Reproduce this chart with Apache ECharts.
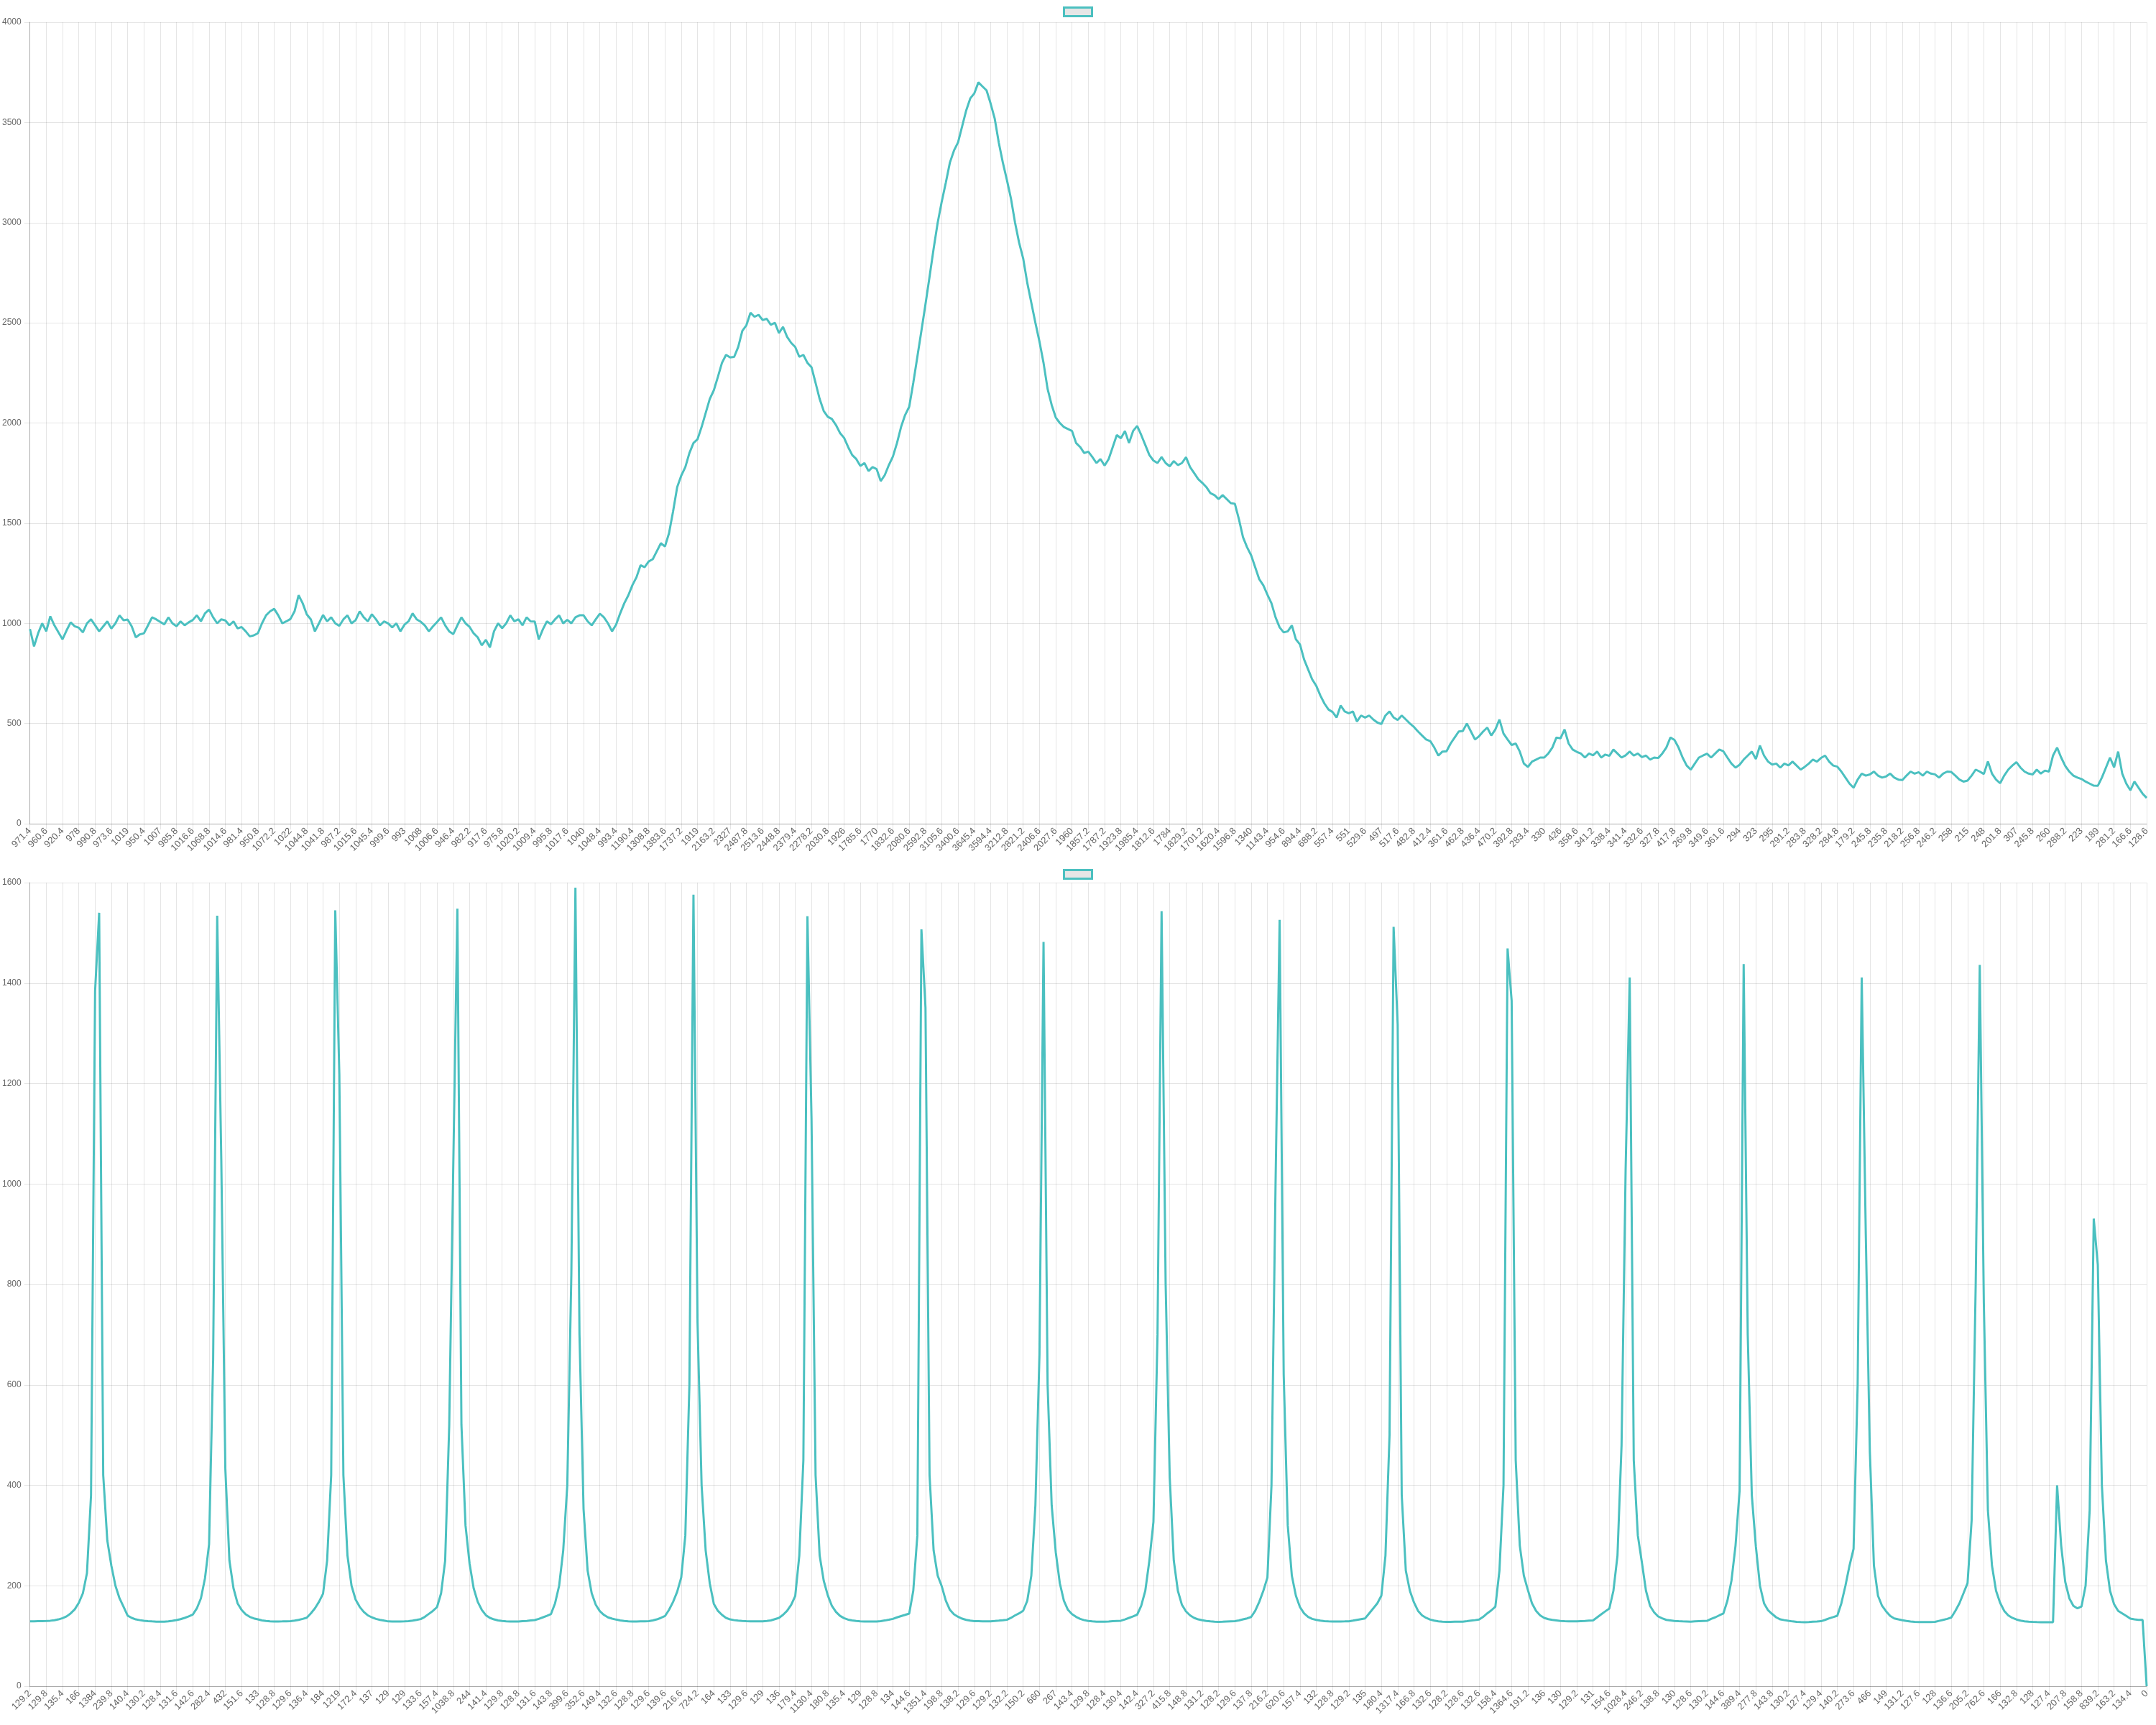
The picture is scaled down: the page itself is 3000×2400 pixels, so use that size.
<!DOCTYPE html>
<html>
<head>
<meta charset="utf-8">
<script src="https://cdn.jsdelivr.net/npm/echarts@6.0.0/dist/echarts.min.js"></script>
<style>
    html, body { margin: 0; padding: 0; background: #fff; }
    #main { width: 3000px; height: 2400px; }
</style>
</head>
<body>
<div id="main"></div>
<script>
    // every 4th value is the one printed under the tick
    const topValues = [
        971.4, 885, 950, 1000,   960.6, 1035, 990, 955,   920.4, 965, 1005, 985,   978, 955, 1000, 1020,
        990.8, 960, 985, 1010,   973.6, 1000, 1040, 1015,   1019, 985, 930, 945,   950.4, 990, 1030, 1020,
        1007, 995, 1030, 1000,   985.8, 1010, 990, 1005,   1016.6, 1040, 1010, 1050,   1068.8, 1030, 1000, 1020,
        1014.6, 990, 1010, 975,   981.4, 960, 935, 940,   950.8, 1000, 1040, 1060,   1072.2, 1040, 1000, 1010,
        1022, 1060, 1140, 1100,   1044.8, 1020, 960, 1000,   1041.8, 1010, 1030, 1000,   987.2, 1020, 1040, 1000,
        1015.6, 1060, 1030, 1010,   1045.4, 1020, 990, 1010,   999.6, 980, 1000, 960,   993, 1010, 1050, 1020,
        1008, 990, 960, 985,   1006.6, 1030, 990, 960,   946.4, 990, 1030, 1000,   982.2, 950, 930, 890,
        917.6, 880, 960, 1000,   975.8, 1000, 1040, 1010,   1020.2, 990, 1030, 1010,   1009.4, 920, 970, 1010,
        995.8, 1020, 1040, 1000,   1017.6, 1000, 1030, 1040,   1040, 1010, 990, 1020,   1048.4, 1030, 1000, 960,
        993.4, 1050, 1100, 1140,   1190.4, 1230, 1290, 1280,   1308.8, 1320, 1360, 1400,   1383.6, 1450, 1560, 1680,
        1737.2, 1780, 1850, 1900,   1919, 1980, 2050, 2120,   2163.2, 2230, 2300, 2340,   2327, 2330, 2380, 2460,
        2487.8, 2550, 2530, 2540,   2513.6, 2520, 2490, 2500,   2448.8, 2480, 2430, 2400,   2379.4, 2330, 2340, 2300,
        2278.2, 2200, 2120, 2060,   2030.8, 2020, 1990, 1950,   1926, 1880, 1840, 1820,   1785.6, 1800, 1760, 1780,
        1770, 1710, 1740, 1790,   1832.6, 1900, 1980, 2040,   2080.6, 2200, 2330, 2460,   2592.8, 2730, 2870, 3000,
        3105.6, 3200, 3300, 3360,   3400.6, 3480, 3560, 3620,   3645.4, 3700, 3680, 3660,   3594.4, 3520, 3400, 3300,
        3212.8, 3120, 3000, 2900,   2821.2, 2700, 2600, 2500,   2406.6, 2300, 2170, 2090,   2027.6, 2000, 1980, 1970,
        1960, 1900, 1880, 1850,   1857.2, 1830, 1800, 1820,   1787.2, 1820, 1880, 1940,   1923.8, 1960, 1900, 1960,
        1985.4, 1940, 1890, 1840,   1812.6, 1800, 1830, 1800,   1784, 1810, 1790, 1800,   1829.2, 1780, 1750, 1720,
        1701.2, 1680, 1650, 1640,   1620.4, 1640, 1620, 1600,   1596.8, 1520, 1430, 1380,   1340, 1280, 1220, 1190,
        1143.4, 1100, 1030, 980,   954.6, 960, 990, 920,   894.4, 820, 770, 720,   688.2, 640, 600, 570,
        557.4, 530, 590, 560,   551, 560, 510, 540,   529.6, 540, 520, 505,   497, 540, 560, 530,
        517.6, 540, 520, 500,   482.8, 460, 440, 420,   412.4, 380, 340, 360,   361.6, 400, 430, 460,
        462.8, 500, 460, 420,   436.4, 460, 480, 440,   470.2, 520, 450, 420,   392.8, 400, 360, 300,
        283.4, 310, 320, 330,   330, 350, 380, 430,   426, 470, 400, 370,   358.6, 350, 330, 350,
        341.2, 360, 330, 345,   338.4, 370, 350, 330,   341.4, 360, 340, 350,   332.6, 340, 320, 330,
        327.8, 350, 380, 430,   417.8, 380, 330, 290,   269.8, 300, 330, 340,   349.6, 330, 350, 370,
        361.6, 330, 300, 280,   294, 320, 340, 360,   323, 390, 340, 310,   295, 300, 280, 300,
        291.2, 310, 290, 270,   283.8, 300, 320, 310,   328.2, 340, 310, 290,   284.8, 260, 230, 200,
        179.2, 220, 250, 240,   245.8, 260, 240, 230,   235.8, 250, 230, 220,   218.2, 240, 260, 250,
        256.8, 240, 260, 250,   246.2, 230, 250, 260,   258, 240, 220, 210,   215, 240, 270, 260,
        248, 310, 250, 220,   201.8, 240, 270, 290,   307, 280, 260, 250,   245.8, 270, 250, 265,
        260, 340, 380, 330,   288.2, 260, 240, 230,   223, 210, 200, 190,   189, 230, 280, 330,
        281.2, 360, 250, 200,   166.6, 210, 180, 150,   128.6
    ];

    const bottomValues = [
        129.2, 129.2, 129.4, 129.6,   129.8, 130.4, 131.4, 133,   135.4, 139, 145, 153,   166, 185, 225, 380,
        1384, 1540, 420, 290,   239.8, 200, 175, 158,   140.4, 136, 133, 131.5,   130.2, 129.5, 129, 128.6,
        128.4, 128.6, 129.2, 130.2,   131.6, 133.5, 136, 139,   142.6, 155, 175, 215,   282.4, 650, 1534, 1050,
        432, 250, 195, 165,   151.6, 143, 138, 135,   133, 131, 130, 129.3,   128.8, 128.8, 129, 129.3,
        129.6, 130.5, 132, 134,   136.4, 145, 155, 168,   184, 250, 420, 1545,   1219, 420, 260, 200,
        172.4, 158, 148, 141,   137, 134, 132, 130.5,   129, 128.8, 128.7, 128.8,   129, 129.6, 130.5, 132,
        133.6, 138, 144, 150,   157.4, 185, 250, 520,   1038.8, 1548, 520, 320,   244, 195, 168, 152,
        141.4, 136, 133, 131,   129.8, 129.2, 128.9, 128.8,   128.8, 129.4, 130, 130.8,   131.6, 134, 137, 140,
        143.8, 165, 200, 270,   399.6, 820, 1590, 700,   352.6, 230, 185, 162,   149.4, 142, 137, 134.5,
        132.6, 131, 130, 129.3,   128.8, 128.9, 129.1, 129.3,   129.6, 131, 133, 136,   139.6, 152, 168, 188,
        216.6, 300, 600, 1576,   724.2, 400, 270, 205,   164, 150, 142, 136,   133, 131.5, 130.5, 130,
        129.6, 129.3, 129.1, 129,   129, 129.8, 131, 133.5,   136, 142, 150, 162,   179.4, 260, 450, 1533,
        1130.4, 420, 260, 210,   180.8, 160, 148, 140,   135.4, 132.5, 131, 129.8,   129, 128.8, 128.7, 128.7,
        128.8, 129.6, 130.8, 132.3,   134, 137, 139.5, 142,   144.6, 190, 300, 1507,   1351.4, 420, 270, 220,
        198.8, 170, 152, 143,   138.2, 134.5, 132, 130.5,   129.6, 129.4, 129.2, 129.2,   129.2, 129.8, 130.5, 131.3,
        132.2, 136, 141, 145,   150.2, 170, 220, 360,   660, 1482, 600, 360,   267, 205, 170, 152,
        143.4, 138, 134, 131.5,   129.8, 129, 128.6, 128.4,   128.4, 128.8, 129.4, 129.9,   130.4, 133, 136, 139,
        142.4, 160, 190, 250,   327.2, 700, 1543, 800,   415.8, 250, 190, 162,   148.8, 141, 136, 133,
        131.2, 130, 129, 128.5,   128.2, 128.4, 128.8, 129.2,   129.6, 131, 133, 135,   137.8, 150, 168, 190,
        216.2, 400, 1000, 1526,   620.6, 320, 220, 180,   157.4, 145, 138, 134,   132, 130.5, 129.5, 129,
        128.8, 128.8, 128.9, 129,   129.2, 130.5, 132, 133.5,   135, 145, 155, 165,   180.4, 260, 500, 1512,
        1317.4, 380, 230, 190,   166.8, 150, 141, 136,   132.6, 130.5, 129.3, 128.6,   128.2, 128.2, 128.3, 128.4,
        128.6, 129.5, 130.5, 131.5,   132.6, 138, 145, 151,   158.4, 230, 400, 1469,   1364.6, 450, 280, 220,
        191.2, 165, 150, 141,   136, 133.5, 132, 131,   130, 129.6, 129.3, 129.2,   129.2, 129.6, 130, 130.5,
        131, 137, 143, 149,   154.6, 190, 260, 480,   1028.4, 1411, 450, 300,   246.2, 190, 160, 147,
        138.8, 135, 132, 131,   130, 129.4, 129, 128.8,   128.6, 129, 129.4, 129.8,   130.2, 134, 137, 141,
        144.6, 170, 210, 280,   389.4, 1438, 700, 380,   277.8, 200, 165, 151,   143.8, 137, 133, 131.5,
        130.2, 129, 128, 127.6,   127.4, 127.8, 128.3, 128.8,   129.4, 132, 135, 137.5,   140.2, 165, 200, 240,
        273.6, 600, 1411, 900,   466, 240, 180, 160,   149, 140, 135, 133,   131.2, 129.8, 128.8, 128,
        127.6, 127.6, 127.7, 127.8,   128, 130, 132, 134,   136.6, 150, 165, 185,   205.2, 330, 800, 1436,
        762.6, 350, 240, 190,   166, 150, 141, 136,   132.8, 130.5, 129.2, 128.5,   128, 127.7, 127.5, 127.4,
        127.4, 127.4, 400, 280,   207.8, 175, 160, 155,   158.8, 200, 350, 931,   839.2, 400, 250, 190,
        163.2, 150, 145, 140,   134.4, 133, 132, 132,   0
    ];

    const topMax = 4000, topStep = 500;
    const bottomMax = 1600, bottomStep = 200;

    var lineColor = '#4bc0c0';
    var gridColor = 'rgba(0,0,0,0.1)';
    var axisColor = 'rgba(0,0,0,0.25)';
    var fontFamily = 'Liberation Sans, Arial, sans-serif';

    function xAxisFor(idx, values) {
        return {
            type: 'category',
            gridIndex: idx,
            boundaryGap: false,
            data: values.map(function (v) { return String(v); }),
            axisLine: { lineStyle: { color: axisColor } },
            axisTick: { interval: 3, length: 8, lineStyle: { color: gridColor } },
            splitLine: { show: true, interval: 3, lineStyle: { color: gridColor } },
            axisLabel: { interval: 3, rotate: 45, margin: 8, color: '#666', fontSize: 13, fontFamily: fontFamily }
        };
    }

    function yAxisFor(idx, max, step) {
        return {
            type: 'value',
            gridIndex: idx,
            min: 0,
            max: max,
            interval: step,
            axisLine: { show: true, lineStyle: { color: axisColor } },
            axisTick: { show: true, length: 8, lineStyle: { color: gridColor } },
            splitLine: { lineStyle: { color: gridColor } },
            axisLabel: {
                margin: 12, color: '#666', fontSize: 12, fontFamily: fontFamily,
                formatter: function (v) { return String(v); }
            }
        };
    }

    function legendFor(top, name) {
        return {
            top: top,
            left: 'center',
            data: [name],
            icon: 'rect',
            itemWidth: 39,
            itemHeight: 12,
            selectedMode: false,
            formatter: function () { return ''; },
            itemStyle: { color: '#e6e6e6', borderColor: lineColor, borderWidth: 3 }
        };
    }

    function lineSeries(name, idx, values) {
        return {
            name: name,
            type: 'line',
            xAxisIndex: idx,
            yAxisIndex: idx,
            data: values,
            symbol: 'none',
            showSymbol: false,
            lineStyle: { color: lineColor, width: 3 },
            itemStyle: { color: lineColor }
        };
    }

    var myChart = echarts.init(document.getElementById('main'));

    let option = {
        animation: false,
        backgroundColor: '#fff',
        legend: [legendFor(4, 'upper'), legendFor(1204, 'lower')],
        grid: [
            { left: 40, right: 13, top: 31, height: 1115 },
            { left: 40, right: 13, top: 1228, height: 1118 }
        ],
        xAxis: [xAxisFor(0, topValues), xAxisFor(1, bottomValues)],
        yAxis: [yAxisFor(0, topMax, topStep), yAxisFor(1, bottomMax, bottomStep)],
        series: [lineSeries('upper', 0, topValues), lineSeries('lower', 1, bottomValues)]
    };

    myChart.setOption(option);
</script>
</body>
</html>
